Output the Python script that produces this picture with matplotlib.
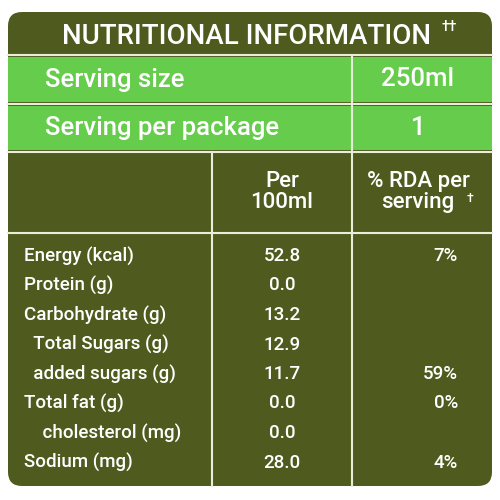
import matplotlib
matplotlib.use("Agg")
import matplotlib.pyplot as plt
from matplotlib.patches import FancyBboxPatch, Rectangle

title = "NUTRITIONAL INFORMATION"
serving_labels = ["Serving size", "Serving per package"]
serving_values = ["250ml", "1"]
nutrients = ["Energy (kcal)", "Protein (g)", "Carbohydrate (g)", "  Total Sugars (g)",
             "  added sugars (g)", "Total fat (g)", "    cholesterol (mg)", "Sodium (mg)"]
per100 = ["52.8", "0.0", "13.2", "12.9", "11.7", "0.0", "0.0", "28.0"]
rda = ["7%", "", "", "", "59%", "0%", "", "4%"]

olive = "#4f5b1e"
green = "#66cc4c"
fig = plt.figure(figsize=(5, 5), dpi=100)
ax = fig.add_axes([0, 0, 1, 1])
ax.set_xlim(0, 500); ax.set_ylim(500, 0); ax.axis("off")
fam = "Roboto"
wt = "medium"

ax.add_patch(FancyBboxPatch((8, 12), 484, 474, boxstyle="round,pad=0,rounding_size=14",
                            fc=olive, ec="none"))
ax.text(247, 36, title, color="white", fontsize=20, ha="center",
        va="center", family=fam, weight=wt)
ax.text(442, 27, "††", color="white", fontsize=10, ha="left", va="center", family=fam, weight=wt)
ax.plot([8, 492], [55, 55], color="#e8eed8", lw=1.5)
rows_y = [(57, 102), (106, 150)]
for (y0, y1), lab, val in zip(rows_y, serving_labels, serving_values):
    ax.add_patch(Rectangle((8, y0), 484, y1 - y0, fc=green, ec="none"))
    ax.text(45, (y0 + y1) / 2, lab, color="white", fontsize=18.5, va="center", family=fam, weight=wt)
    ax.text(418, (y0 + y1) / 2, val, color="white", fontsize=18.5, va="center", ha="center", family=fam, weight=wt)
ax.plot([352, 352], [55, 486], color="#e8eed8", lw=1.5)
ax.plot([212, 212], [152, 486], color="#e8eed8", lw=1.5)
ax.plot([8, 492], [104, 104], color="#e8eed8", lw=1.5)
ax.plot([8, 492], [152, 152], color="#e8eed8", lw=1.5)
ax.plot([8, 492], [233, 233], color="#e8eed8", lw=1.5)
ax.text(282, 192, "Per\n100ml", color="white", fontsize=16, ha="center", va="center",
        family=fam, weight=wt, linespacing=0.95)
ax.text(418, 192, "% RDA per\nserving", color="white", fontsize=16, ha="center",
        va="center", family=fam, weight=wt, linespacing=0.95)
ax.text(467, 199, "†", color="white", fontsize=9, ha="left", va="center", family=fam, weight=wt)
for i, (n, p, r) in enumerate(zip(nutrients, per100, rda)):
    y = 256 + i * 29.5
    ax.text(24, y, n, color="white", fontsize=13.5, va="center", family=fam, weight=wt)
    ax.text(282, y, p, color="white", fontsize=13.5, va="center", ha="center", family=fam, weight=wt)
    if r:
        ax.text(458, y, r, color="white", fontsize=13.5, va="center", ha="right", family=fam, weight=wt)
fig.savefig("out.png", dpi=100, facecolor="white")
